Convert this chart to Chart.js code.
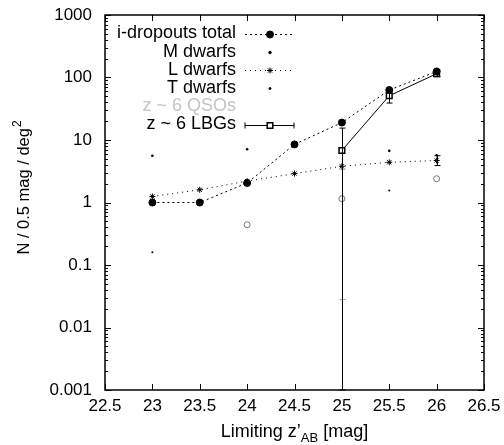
<!DOCTYPE html>
<html>
<head>
<meta charset="utf-8">
<script src="https://cdn.jsdelivr.net/npm/chart.js@4.4.0/dist/chart.umd.min.js"></script>
<style>
html, body { margin: 0; padding: 0; background: #fff; }
</style>
</head>
<body>
<canvas id="c" width="504" height="445"></canvas>
<script>
// limiting magnitudes (x)
const mags = [23, 23.5, 24, 24.5, 25, 25.5, 26];
const xTicks = [22.5, 23, 23.5, 24, 24.5, 25, 25.5, 26, 26.5];
const yTicks = [0.001, 0.01, 0.1, 1, 10, 100, 1000];

// number counts per 0.5 mag per deg^2
const iDropTotal = [1.0, 1.0, 2.05, 8.5, 19, 63, 125];
const mDwarfs    = [5.6, null, 7.1, null, null, 6.7, 5.7];
const lDwarfs    = [1.25, 1.6, 2.2, 2.9, 3.8, 4.4, 4.7];
const lDwarfLow  = [null, null, null, null, null, null, 3.9];
const lDwarfHigh = [null, null, null, null, null, null, 5.6];
const tDwarfs    = [0.16, null, null, null, null, 1.55, null];
const qsos       = [null, null, 0.44, null, 1.15, null, 2.4];
const qsoLow     = [null, null, null, null, 0.028, null, null];
const qsoHigh    = [null, null, null, null, 3.4, null, null];
const lbgs       = [null, null, null, null, 6.8, 51, 115];
const lbgLow     = [null, null, null, null, 0.001, 39, 103];
const lbgHigh    = [null, null, null, null, 15.5, 64, 132];

const FONT = '"Liberation Sans", Arial, Helvetica, sans-serif';

function pts(arr) {
    return mags.map((m, i) => ({ x: m, y: arr[i] })).filter(p => p.y != null);
}

// vertical error bars, drawn through the scales
const errorBars = {
    id: 'errorBars',
    afterDatasetsDraw(chart) {
        const ctx = chart.ctx, xs = chart.scales.x, ys = chart.scales.y;
        chart.data.datasets.forEach(ds => {
            if (!ds.errLow) return;
            ctx.save();
            ctx.strokeStyle = ds.errColor || '#000';
            ctx.lineWidth = 1;
            mags.forEach((m, i) => {
                if (ds.errLow[i] == null) return;
                const x = Math.round(xs.getPixelForValue(m)) + 0.5;
                const y1 = ys.getPixelForValue(ds.errLow[i]);
                const y2 = ys.getPixelForValue(ds.errHigh[i]);
                ctx.beginPath();
                ctx.moveTo(x, y1); ctx.lineTo(x, y2);
                ctx.moveTo(x - 3, y1); ctx.lineTo(x + 3, y1);
                ctx.moveTo(x - 3, y2); ctx.lineTo(x + 3, y2);
                ctx.stroke();
            });
            ctx.restore();
        });
    }
};

// gnuplot style frame with inward ticks, titles and legend
const frame = {
    id: 'frame',
    afterDraw(chart) {
        const ctx = chart.ctx, a = chart.chartArea;
        const xs = chart.scales.x, ys = chart.scales.y;
        ctx.save();
        ctx.strokeStyle = '#000';
        ctx.lineWidth = 1.5;
        ctx.strokeRect(a.left, a.top, a.right - a.left, a.bottom - a.top);
        ctx.lineWidth = 1;
        ctx.beginPath();
        xTicks.forEach(v => {
            const x = Math.round(xs.getPixelForValue(v)) + 0.5;
            ctx.moveTo(x, a.bottom); ctx.lineTo(x, a.bottom - 6);
            ctx.moveTo(x, a.top); ctx.lineTo(x, a.top + 6);
        });
        yTicks.forEach((v, k) => {
            const y = Math.round(ys.getPixelForValue(v)) + 0.5;
            ctx.moveTo(a.left, y); ctx.lineTo(a.left + 6, y);
            ctx.moveTo(a.right, y); ctx.lineTo(a.right - 6, y);
            if (k === yTicks.length - 1) return;
            for (let j = 2; j <= 9; j++) {
                const ym = Math.round(ys.getPixelForValue(v * j)) + 0.5;
                ctx.moveTo(a.left, ym); ctx.lineTo(a.left + 3, ym);
                ctx.moveTo(a.right, ym); ctx.lineTo(a.right - 3, ym);
            }
        });
        ctx.stroke();

        // axis titles
        ctx.fillStyle = '#000';
        ctx.textBaseline = 'alphabetic';
        ctx.font = '18px ' + FONT;
        const t1 = 'Limiting z\u2019', t2 = 'AB', t3 = ' [mag]';
        const w1 = ctx.measureText(t1).width, w3 = ctx.measureText(t3).width;
        ctx.font = '13px ' + FONT;
        const w2 = ctx.measureText(t2).width;
        let x0 = (a.left + a.right) / 2 - (w1 + w2 + w3) / 2;
        ctx.textAlign = 'left';
        ctx.font = '18px ' + FONT;
        ctx.fillText(t1, x0, 437);
        ctx.font = '13px ' + FONT;
        ctx.fillText(t2, x0 + w1, 442);
        ctx.font = '18px ' + FONT;
        ctx.fillText(t3, x0 + w1 + w2, 437);

        ctx.save();
        ctx.translate(29, 188);
        ctx.rotate(-Math.PI / 2);
        ctx.font = '16.5px ' + FONT;
        const s1 = 'N / 0.5 mag / deg', s2 = '2';
        const ws1 = ctx.measureText(s1).width;
        ctx.font = '12px ' + FONT;
        const ws2 = ctx.measureText(s2).width;
        const sx = -(ws1 + ws2) / 2;
        ctx.font = '16.5px ' + FONT;
        ctx.fillText(s1, sx, 0);
        ctx.font = '12px ' + FONT;
        ctx.fillText(s2, sx + ws1 + 1, -8);
        ctx.restore();

        // legend
        ctx.font = '18px ' + FONT;
        ctx.textAlign = 'right';
        ctx.textBaseline = 'middle';
        const rows = [
            { text: 'i-dropouts total', ds: 0 },
            { text: 'M dwarfs', ds: 1 },
            { text: 'L dwarfs', ds: 2 },
            { text: 'T dwarfs', ds: 3 },
            { text: 'z ~ 6 QSOs', ds: 4 },
            { text: 'z ~ 6 LBGs', ds: 5 }
        ];
        const lx1 = 245, lx2 = 294, lmx = 270;
        rows.forEach((r, k) => {
            const y = 33.5 + k * 18.2;
            const ds = chart.data.datasets[r.ds];
            ctx.fillStyle = r.ds === 4 ? '#c4c4c4' : '#000';
            ctx.fillText(r.text, 236, y);
            const yy = Math.round(y) + 0.5;
            ctx.strokeStyle = '#000';
            ctx.lineWidth = 1;
            if (ds.showLine) {
                ctx.save();
                ctx.setLineDash(ds.borderDash || []);
                ctx.beginPath();
                ctx.moveTo(lx1, yy); ctx.lineTo(lx2, yy);
                ctx.stroke();
                ctx.restore();
            }
            if (r.ds === 5) {
                ctx.beginPath();
                ctx.moveTo(lx1, yy - 3); ctx.lineTo(lx1, yy + 3);
                ctx.moveTo(lx2, yy - 3); ctx.lineTo(lx2, yy + 3);
                ctx.stroke();
            }
            if (r.ds === 4) return;
            ctx.fillStyle = ds.backgroundColor;
            ctx.strokeStyle = ds.borderColor;
            ctx.lineWidth = ds.pointBorderWidth == null ? 1 : ds.pointBorderWidth;
            Chart.helpers.drawPoint(ctx, {
                pointStyle: ds.pointStyle,
                radius: ds.pointRadius,
                rotation: 0,
                borderWidth: ctx.lineWidth
            }, lmx, yy);
        });
        ctx.restore();
    }
};

new Chart(document.getElementById('c'), {
    type: 'scatter',
    data: {
        datasets: [
            {
                label: 'i-dropouts total',
                data: pts(iDropTotal),
                showLine: true,
                borderColor: '#000',
                backgroundColor: '#000',
                borderWidth: 1,
                borderDash: [2, 3],
                pointStyle: 'circle',
                pointRadius: 3.5
            },
            {
                label: 'M dwarfs',
                data: pts(mDwarfs),
                showLine: false,
                borderColor: '#000',
                backgroundColor: '#000',
                pointStyle: 'circle',
                pointRadius: 1.3,
                pointBorderWidth: 0
            },
            {
                label: 'L dwarfs',
                data: pts(lDwarfs),
                showLine: true,
                borderColor: '#000',
                backgroundColor: '#000',
                borderWidth: 1,
                borderDash: [1, 4],
                pointStyle: 'star',
                pointRadius: 3,
                errLow: lDwarfLow,
                errHigh: lDwarfHigh
            },
            {
                label: 'T dwarfs',
                data: pts(tDwarfs),
                showLine: false,
                borderColor: '#000',
                backgroundColor: '#000',
                pointStyle: 'circle',
                pointRadius: 1,
                pointBorderWidth: 0
            },
            {
                label: 'z ~ 6 QSOs',
                data: pts(qsos),
                showLine: false,
                borderColor: '#777',
                backgroundColor: 'rgba(0,0,0,0)',
                pointStyle: 'circle',
                pointRadius: 3,
                pointBorderWidth: 1,
                errLow: qsoLow,
                errHigh: qsoHigh,
                errColor: '#999'
            },
            {
                label: 'z ~ 6 LBGs',
                data: pts(lbgs),
                showLine: true,
                borderColor: '#000',
                backgroundColor: '#fff',
                borderWidth: 1,
                pointStyle: 'rect',
                pointRadius: 4,
                pointBorderWidth: 1.5,
                errLow: lbgLow,
                errHigh: lbgHigh
            }
        ]
    },
    options: {
        responsive: false,
        animation: false,
        devicePixelRatio: 1,
        layout: { padding: { left: 0, right: 20, top: 15, bottom: 0 } },
        plugins: {
            legend: { display: false },
            tooltip: { enabled: false }
        },
        scales: {
            x: {
                type: 'linear',
                min: 22.5,
                max: 26.5,
                grid: { display: false, drawTicks: false },
                border: { display: false },
                afterFit: s => { s.height = 55; s.paddingLeft = 0; s.paddingRight = 0; },
                afterBuildTicks: s => { s.ticks = xTicks.map(v => ({ value: v })); },
                ticks: {
                    color: '#000',
                    padding: 6,
                    maxRotation: 0,
                    font: { family: FONT, size: 17 },
                    callback: v => String(v)
                }
            },
            y: {
                type: 'logarithmic',
                min: 0.001,
                max: 1000,
                grid: { display: false, drawTicks: false },
                border: { display: false },
                afterFit: s => { s.width = 105; s.paddingTop = 0; s.paddingBottom = 0; },
                afterBuildTicks: s => { s.ticks = yTicks.map(v => ({ value: v })); },
                ticks: {
                    color: '#000',
                    padding: 13,
                    font: { family: FONT, size: 17 },
                    callback: v => String(v)
                }
            }
        }
    },
    plugins: [errorBars, frame]
});
</script>
</body>
</html>
